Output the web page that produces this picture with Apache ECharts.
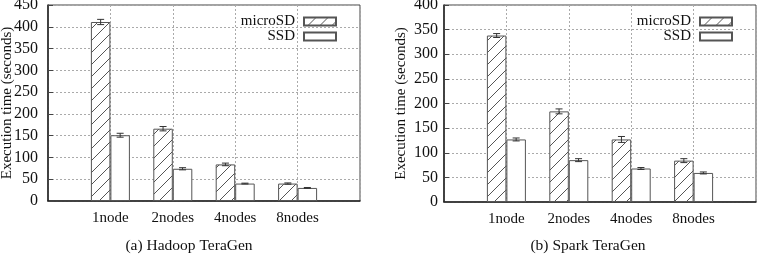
<!DOCTYPE html>
<html>
<head>
<meta charset="utf-8">
<script src="https://cdn.jsdelivr.net/npm/echarts@6/dist/echarts.min.js"></script>
<style>
  html, body { margin: 0; padding: 0; background: #fff; }
  #chart { width: 757px; height: 256px; }
</style>
</head>
<body>
<div id="chart"></div>
<script>
// categories (empty slots at both ends, like gnuplot's xrange)
const categories = ['', '1node', '2nodes', '4nodes', '8nodes', ''];

// Hadoop TeraGen
const hadoopMicroSD = [411, 166, 84, 40];
const hadoopMicroSDErr = [6, 5, 3, 1.5];
const hadoopSSD = [151, 74, 40, 30];
const hadoopSSDErr = [4.5, 2.5, 1, 1];

// Spark TeraGen
const sparkMicroSD = [338, 184, 127, 84];
const sparkMicroSDErr = [4, 5, 6, 4];
const sparkSSD = [127, 85, 68, 59];
const sparkSSDErr = [3, 3, 2, 2];

const FONT = "'Liberation Serif', 'DejaVu Serif', serif";
const BAR_W = 19.5;

// 斜线填充
function hatch() {
  const c = document.createElement('canvas');
  c.width = 12; c.height = 12;
  const g = c.getContext('2d');
  g.fillStyle = '#fff';
  g.fillRect(0, 0, 12, 12);
  g.strokeStyle = '#555';
  g.lineWidth = 1;
  g.beginPath();
  g.moveTo(-1, 13); g.lineTo(13, -1);
  g.moveTo(-7, 7); g.lineTo(7, -7);
  g.moveTo(5, 19); g.lineTo(19, 5);
  g.stroke();
  return { image: c, repeat: 'repeat' };
}
const hatchFill = hatch();

const pad = arr => [null, ...arr, null];

function errSeries(vals, errs, side, idx) {
  const data = vals.map((v, i) => [i + 1, v - errs[i], v + errs[i]]);
  return {
    type: 'custom',
    xAxisIndex: idx,
    yAxisIndex: idx,
    z: 5,
    data: data,
    renderItem: function (params, api) {
      const lo = api.coord([api.value(0), api.value(1)]);
      const hi = api.coord([api.value(0), api.value(2)]);
      const x = lo[0] + side * BAR_W / 2;
      const cap = 3.5;
      const st = { stroke: '#333', lineWidth: 1 };
      return {
        type: 'group',
        children: [
          { type: 'line', shape: { x1: x, y1: lo[1], x2: x, y2: hi[1] }, style: st },
          { type: 'line', shape: { x1: x - cap, y1: lo[1], x2: x + cap, y2: lo[1] }, style: st },
          { type: 'line', shape: { x1: x - cap, y1: hi[1], x2: x + cap, y2: hi[1] }, style: st }
        ]
      };
    }
  };
}

function barSeries(name, vals, fill, idx) {
  return {
    name: name,
    type: 'bar',
    xAxisIndex: idx,
    yAxisIndex: idx,
    barWidth: BAR_W,
    barGap: '0%',
    data: pad(vals),
    itemStyle: { color: fill, borderColor: '#555', borderWidth: 1 },
    emphasis: { disabled: true }
  };
}

function xAxis(idx) {
  return {
    type: 'category',
    gridIndex: idx,
    data: categories,
    boundaryGap: false,
    axisLine: { lineStyle: { color: '#222', width: 1.5 } },
    axisTick: { show: false },
    axisLabel: { interval: 0, color: '#111', fontFamily: FONT, fontSize: 15, margin: 10 },
    splitLine: { show: true, lineStyle: { color: '#aaa', type: [2, 2] } }
  };
}

function yAxis(idx, max, gap, margin) {
  return {
    type: 'value',
    gridIndex: idx,
    min: 0,
    max: max,
    interval: 50,
    name: 'Execution time (seconds)',
    nameLocation: 'middle',
    nameGap: gap,
    nameMoveOverlap: false,
    nameTextStyle: { color: '#111', fontFamily: FONT, fontSize: 15 },
    axisLine: { show: true, lineStyle: { color: '#222', width: 1.5 } },
    axisTick: { show: true, inside: true, length: 5, lineStyle: { color: '#444' } },
    axisLabel: { color: '#111', fontFamily: FONT, fontSize: 16, margin: margin },
    splitLine: { show: true, lineStyle: { color: '#aaa', type: [2, 2] } }
  };
}

function legend(right) {
  return {
    orient: 'vertical',
    right: right,
    top: 9,
    align: 'right',
    icon: 'rect',
    itemWidth: 32,
    itemHeight: 8,
    itemGap: 0,
    selectedMode: false,
    data: ['microSD', 'SSD'],
    textStyle: { color: '#111', fontFamily: FONT, fontSize: 15, lineHeight: 14, padding: [0, 4, 0, 0] }
  };
}

const chart = echarts.init(document.getElementById('chart'));
chart.setOption({
  animation: false,
  title: [
    { text: '(a) Hadoop TeraGen', left: 189, top: 238, textAlign: 'center', padding: 0,
      textStyle: { color: '#111', fontFamily: FONT, fontSize: 15.5, fontWeight: 'normal' } },
    { text: '(b) Spark TeraGen', left: 588, top: 238, textAlign: 'center', padding: 0,
      textStyle: { color: '#111', fontFamily: FONT, fontSize: 15.5, fontWeight: 'normal' } }
  ],
  legend: [legend(415), legend(19)],
  grid: [
    { left: 48, right: 397, top: 5, bottom: 55, show: true, borderColor: '#444', borderWidth: 1,
      containLabel: false, outerBoundsMode: 'none' },
    { left: 444, right: 1, top: 5, bottom: 54, show: true, borderColor: '#444', borderWidth: 1,
      containLabel: false, outerBoundsMode: 'none' }
  ],
  xAxis: [xAxis(0), xAxis(1)],
  yAxis: [yAxis(0, 450, 33, 10), yAxis(1, 400, 35, 6)],
  series: [
    barSeries('microSD', hadoopMicroSD, hatchFill, 0),
    barSeries('SSD', hadoopSSD, '#fff', 0),
    errSeries(hadoopMicroSD, hadoopMicroSDErr, -1, 0),
    errSeries(hadoopSSD, hadoopSSDErr, 1, 0),
    barSeries('microSD', sparkMicroSD, hatchFill, 1),
    barSeries('SSD', sparkSSD, '#fff', 1),
    errSeries(sparkMicroSD, sparkMicroSDErr, -1, 1),
    errSeries(sparkSSD, sparkSSDErr, 1, 1)
  ]
});
</script>
</body>
</html>
